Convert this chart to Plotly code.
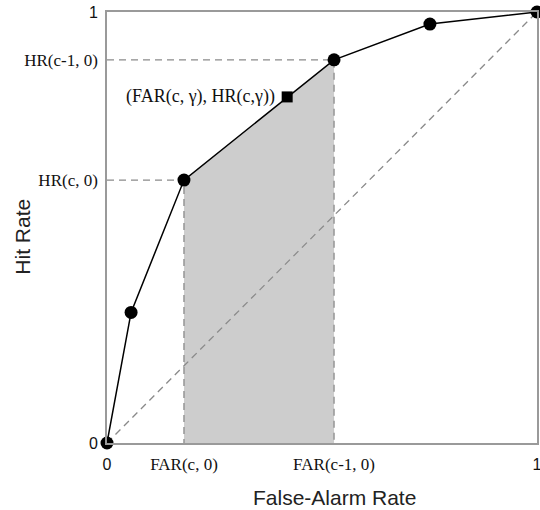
import plotly.graph_objects as go

# ROC operating points (false-alarm rate, hit rate)
far = [0.0, 0.056, 0.179, 0.528, 0.751, 1.0]
hr = [0.0, 0.303, 0.610, 0.889, 0.972, 1.0]

# indices of the two criteria bounding the shaded band
i_c, i_c1 = 2, 3

# interpolated point for (c, gamma)
far_g = 0.419
hr_g = 0.803

x_tick_vals = [0.0, far[i_c], far[i_c1], 1.0]
y_tick_vals = [0.0, hr[i_c], hr[i_c1], 1.0]
SANS = '<span style="font-family:Liberation Sans, Arial, sans-serif;font-size:16px">{}</span>'
x_tick_text = [SANS.format("0"), "FAR(c, 0)", "FAR(c-1, 0)", SANS.format("1")]
y_tick_text = [SANS.format("0"), "HR(c, 0)", "HR(c-1, 0)", SANS.format("1")]

SERIF = "Liberation Serif, Times New Roman, serif"
SANS_FAMILY = "Liberation Sans, Arial, sans-serif"
GUIDE = dict(color="#8a8a8a", width=1.3, dash="7px,5px")

fig = go.Figure()

# shaded area under the curve between the two criteria
band_x = [far[i_c]] + far[i_c:i_c1 + 1] + [far[i_c1]]
band_y = [0.0] + hr[i_c:i_c1 + 1] + [0.0]
fig.add_trace(go.Scatter(x=band_x, y=band_y, fill="toself", fillcolor="#cdcdcd",
                         line=dict(width=0), mode="lines", hoverinfo="skip"))

# chance diagonal
fig.add_trace(go.Scatter(x=[0, 1], y=[0, 1], mode="lines", line=GUIDE, hoverinfo="skip"))

# guide lines to the axes
for i in (i_c, i_c1):
    fig.add_trace(go.Scatter(x=[0, far[i], far[i]], y=[hr[i], hr[i], 0],
                             mode="lines", line=GUIDE, hoverinfo="skip"))

# ROC curve
fig.add_trace(go.Scatter(x=far, y=hr, mode="lines+markers",
                         line=dict(color="black", width=1.5),
                         marker=dict(color="black", size=13, symbol="circle"),
                         cliponaxis=False))

# interpolated point
fig.add_trace(go.Scatter(x=[far_g], y=[hr_g], mode="markers",
                         marker=dict(color="black", size=11, symbol="square"),
                         cliponaxis=False))

fig.add_annotation(x=far_g, y=hr_g, text="(FAR(c, γ), HR(c,γ))", showarrow=False,
                   xanchor="right", yanchor="middle", xshift=-10,
                   font=dict(family=SERIF, size=18, color="#111"))

# axis titles
fig.add_annotation(xref="paper", yref="paper", x=0.528, y=-0.127,
                   text="False-Alarm Rate", showarrow=False,
                   xanchor="center", yanchor="middle",
                   font=dict(family=SANS_FAMILY, size=21, color="#222"))
fig.add_annotation(xref="paper", yref="paper", x=-0.196, y=0.478,
                   text="Hit Rate", showarrow=False, textangle=-90,
                   xanchor="center", yanchor="middle",
                   font=dict(family=SANS_FAMILY, size=21, color="#222"))

axis_common = dict(range=[0, 1], showgrid=False, zeroline=False, showline=True,
                   linecolor="#9a9a9a", linewidth=1.5, mirror=True, ticks="",
                   automargin=False, ticklabeloverflow="allow",
                   tickfont=dict(family=SERIF, size=17, color="#111"))

fig.update_layout(
    width=540, height=510,
    margin=dict(l=107, r=3, t=12, b=67),
    plot_bgcolor="white", paper_bgcolor="white",
    showlegend=False,
    xaxis=dict(**axis_common, tickvals=x_tick_vals, ticktext=x_tick_text,
               ticklabelstandoff=5),
    yaxis=dict(**axis_common, tickvals=y_tick_vals, ticktext=y_tick_text,
               ticklabelstandoff=4),
)

fig.write_html("out.html")
